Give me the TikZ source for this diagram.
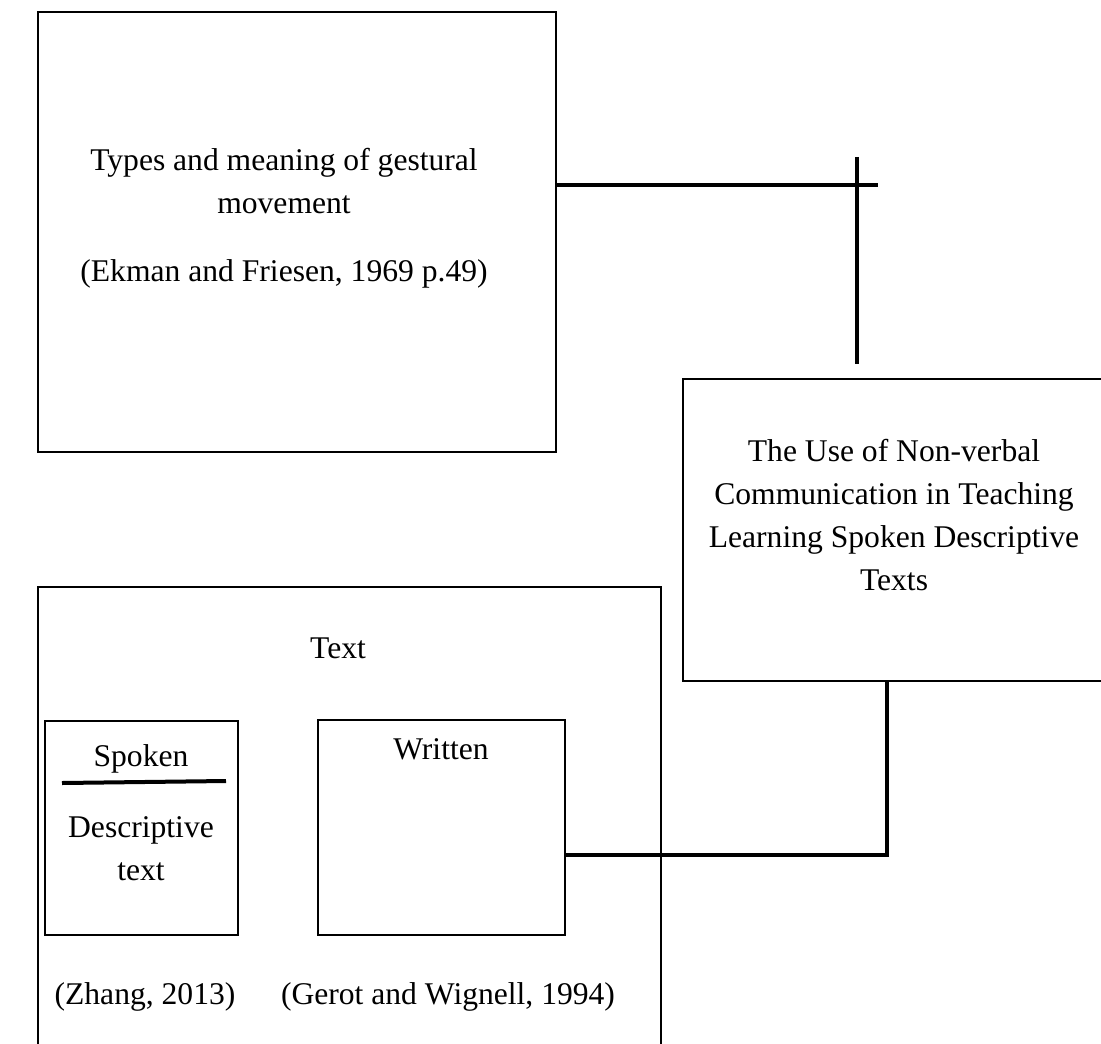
\documentclass[tikz,border=0pt]{standalone}
\usepackage{fontspec}
\setmainfont{Liberation Serif}
\begin{document}
\begin{tikzpicture}[x=0.5pt,y=-0.5pt,
  box/.style={draw,line width=1.2pt,rectangle,inner sep=0pt},
  conn/.style={line width=2pt},
  lbl/.style={align=center,inner sep=0pt,font=\fontsize{15.8pt}{21.5pt}\selectfont}]
\useasboundingbox (0,0) rectangle (1101,1043);
\clip (0,0) rectangle (1101,1043);
% boxes
\node[box,minimum width=259pt,minimum height=220pt] (gest) at (297,232) {};
\node[box,minimum width=213.5pt,minimum height=151pt] (use) at (896.5,530) {};
\node[box,minimum width=311.5pt,minimum height=236.5pt] (text) at (349.5,823.5) {};
\node[box,minimum width=96.5pt,minimum height=107pt] (spoken) at (141.5,828) {};
\node[box,minimum width=123.5pt,minimum height=107.5pt] (written) at (441.5,827.5) {};
% labels
\node[lbl] (gestA) at (284,163) {Types and meaning of gestural};
\node[lbl] (gestB) at (284,205) {movement};
\node[lbl] (gestC) at (284,274) {(Ekman and Friesen, 1969 p.49)};
\node[lbl] (useL) at (894,515) {The Use of Non-verbal\\Communication in Teaching\\Learning Spoken Descriptive\\Texts};
\node[lbl] (textL) at (338,648) {Text};
\node[lbl] (spokenL) at (141,759) {Spoken};
\node[lbl] (descL) at (141,849) {Descriptive\\text};
\node[lbl] (writtenL) at (441,749) {Written};
\node[lbl] (zhang) at (145,997) {(Zhang, 2013)};
\node[lbl] (gerot) at (448,997) {(Gerot and Wignell, 1994)};
% connectors
\coordinate (hEnd) at (878,185);
\coordinate (vTop) at (857,157);
\coordinate (vBot) at (857,364);
\coordinate (uLeft) at (62,783);
\coordinate (uRight) at (226,781);
\coordinate (wOut) at (565,855);
\coordinate (bend) at (887,855);
\coordinate (useBot) at (887,681);
\draw[conn] (gest.east |- hEnd) -- (hEnd);
\draw[conn] (vTop) -- (vBot);
\draw[conn] (uLeft) -- (uRight);
\draw[conn] (wOut) -- (bend) -- (useBot);
\end{tikzpicture}
\end{document}
